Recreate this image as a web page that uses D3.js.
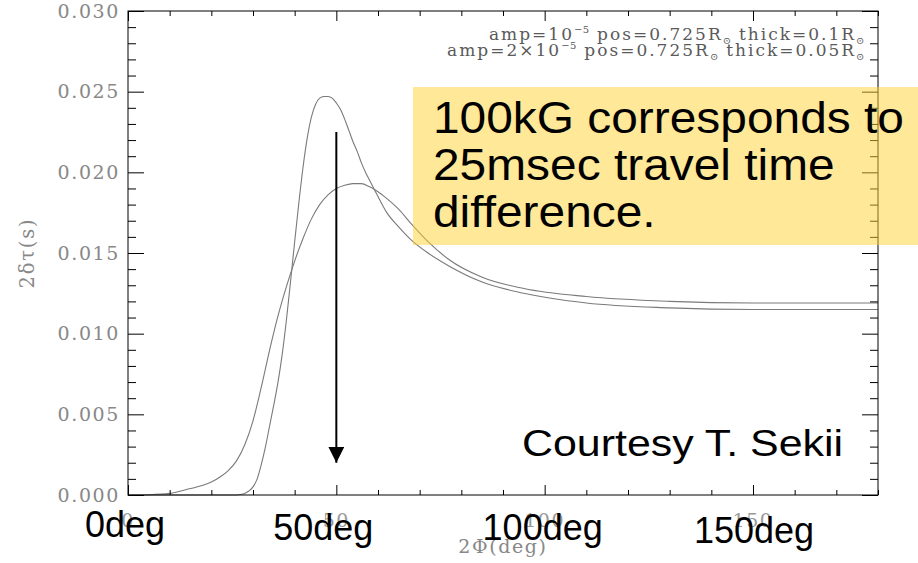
<!DOCTYPE html>
<html>
<head>
<meta charset="utf-8">
<script src="https://cdn.jsdelivr.net/npm/d3@7"></script>
<style>
  body { margin: 0; background: #fff; }
  svg { display: block; }
</style>
</head>
<body>
<div id="chart"></div>
<script>
// x in degrees (2 Phi), y in seconds (2 delta tau)
var degA = [0, 20, 26, 27, 28, 29, 30, 31, 32, 33, 34, 35, 36, 37, 38, 39, 40, 41, 42, 43, 44, 45, 46, 47, 48, 49, 50, 51, 52, 53, 54, 55, 56, 57, 58, 59, 60, 62, 65, 68, 72, 77, 85, 95, 110, 130, 150, 180];
var tauA = [0, 0, 0, 0.00003, 0.0001, 0.00025, 0.0005, 0.0010, 0.0019, 0.0030, 0.0043, 0.0056, 0.0070, 0.0087, 0.0108, 0.0132, 0.0157, 0.0181, 0.0203, 0.0221, 0.0234, 0.0242, 0.0246, 0.0247, 0.0247, 0.0246, 0.0243, 0.0239, 0.0233, 0.0226, 0.0219, 0.0213, 0.0206, 0.0200, 0.0195, 0.0190, 0.0185, 0.01755, 0.0166, 0.0158, 0.0150, 0.0142, 0.0132, 0.0125, 0.0119, 0.0116, 0.0115, 0.0115];

var degB = [0, 5, 10, 15, 18, 20, 22, 24, 26, 28, 30, 32, 34, 36, 38, 40, 42, 44, 46, 48, 50, 52, 54, 56, 58, 60, 62, 65, 68, 72, 77, 85, 95, 110, 130, 150, 180];
var tauB = [0, 0.00002, 0.0001, 0.0004, 0.0006, 0.0008, 0.0011, 0.0015, 0.0021, 0.0031, 0.0046, 0.0067, 0.0090, 0.0111, 0.0129, 0.0145, 0.0159, 0.0171, 0.0180, 0.0186, 0.0190, 0.0192, 0.0193, 0.0193, 0.0191, 0.0188, 0.0184, 0.0177, 0.0168, 0.0157, 0.0146, 0.0135, 0.0128, 0.0123, 0.0120, 0.0119, 0.0119];

var xTicks = [0, 50, 100, 150];
var yTicks = [0.000, 0.005, 0.010, 0.015, 0.020, 0.025, 0.030];
var degLabels = ["0deg", "50deg", "100deg", "150deg"];

// arrow annotation: at 50 deg, from 0.0225 down to 0.002
var arrowDeg = [50, 50];
var arrowTau = [0.0225, 0.002];

var noteLines = ["100kG corresponds to", "25msec travel time", "difference."];
var courtesy = "Courtesy T. Sekii";

var W = 918, H = 563;
var margin = {top: 11, right: 40, bottom: 68, left: 128};
var width = W - margin.left - margin.right,
    height = H - margin.top - margin.bottom;

var svg = d3.select("#chart")
  .append("svg")
    .attr("width", W)
    .attr("height", H)
    .style("background-color", "#fff");

var g = svg.append("g")
  .attr("transform", "translate(" + margin.left + "," + margin.top + ")");

var x = d3.scaleLinear().domain([0, 180]).range([0, width]);
var y = d3.scaleLinear().domain([0, 0.030]).range([height, 0]);

var serif = "'DejaVu Serif', serif";
var sans = "'Liberation Sans', Arial, sans-serif";

// curves
var line = d3.line()
  .x(function(d) { return x(d[0]); })
  .y(function(d) { return y(d[1]); })
  .curve(d3.curveMonotoneX);

[[degA, tauA], [degB, tauB]].forEach(function(s) {
  g.append("path")
    .datum(d3.zip(s[0], s[1]))
    .attr("fill", "none")
    .attr("stroke", "#7a7a7a")
    .attr("stroke-width", 1.1)
    .attr("d", line);
});

// axes: frame plus ticks on all four sides
var xMinor = d3.range(0, 181, 10).filter(function(v) { return xTicks.indexOf(v) < 0; });
var yMinor = d3.range(0, 31, 1).filter(function(v) { return v % 5 !== 0; }).map(function(v) { return v / 1000; });

function drawAxis(axis, transform) {
  var a = g.append("g").attr("transform", transform).call(axis);
  a.select(".domain").remove();
  a.selectAll("line").attr("stroke", "#000").attr("stroke-width", 1);
  return a;
}

// bottom
drawAxis(d3.axisTop(x).tickValues(xTicks).tickSize(10).tickFormat(""), "translate(0," + height + ")");
drawAxis(d3.axisTop(x).tickValues(xMinor).tickSize(5).tickFormat(""), "translate(0," + height + ")");
// top
drawAxis(d3.axisBottom(x).tickValues(xTicks).tickSize(10).tickFormat(""), "translate(0,0)");
drawAxis(d3.axisBottom(x).tickValues(xMinor).tickSize(5).tickFormat(""), "translate(0,0)");
// left
drawAxis(d3.axisRight(y).tickValues(yTicks).tickSize(16).tickFormat(""), "translate(0,0)");
drawAxis(d3.axisRight(y).tickValues(yMinor).tickSize(8).tickFormat(""), "translate(0,0)");
// right
drawAxis(d3.axisLeft(y).tickValues(yTicks).tickSize(16).tickFormat(""), "translate(" + width + ",0)");
drawAxis(d3.axisLeft(y).tickValues(yMinor).tickSize(8).tickFormat(""), "translate(" + width + ",0)");

g.append("rect")
  .attr("width", width)
  .attr("height", height)
  .attr("fill", "none")
  .attr("stroke", "#000")
  .attr("stroke-width", 1);

// y tick labels
g.selectAll(".ylab")
  .data(yTicks)
  .enter()
  .append("text")
    .attr("class", "ylab")
    .attr("x", -8)
    .attr("y", function(d) { return y(d); })
    .attr("dy", "0.35em")
    .attr("text-anchor", "end")
    .attr("font-family", serif)
    .attr("font-size", 19)
    .attr("letter-spacing", 1.6)
    .attr("fill", "#888")
    .text(function(d) { return d3.format(".3f")(d); });

// x tick labels (gray, small)
g.selectAll(".xlab")
  .data(xTicks)
  .enter()
  .append("text")
    .attr("class", "xlab")
    .attr("x", function(d) { return x(d); })
    .attr("y", height + 32)
    .attr("text-anchor", "middle")
    .attr("font-family", serif)
    .attr("font-size", 19)
    .attr("letter-spacing", 1.6)
    .attr("fill", "#999")
    .text(function(d) { return d; });

// axis titles
g.append("text")
  .attr("x", x(90))
  .attr("y", height + 58)
  .attr("text-anchor", "middle")
  .attr("font-family", serif)
  .attr("font-size", 19)
  .attr("letter-spacing", 1.6)
  .attr("fill", "#888")
  .text("2Φ(deg)");

g.append("text")
  .attr("transform", "translate(" + (-94) + "," + y(0.015) + ") rotate(-90)")
  .attr("text-anchor", "middle")
  .attr("font-family", serif)
  .attr("font-size", 19.5)
  .attr("letter-spacing", 1.8)
  .attr("fill", "#888")
  .text("2δτ(s)");

// legend text top right
var legend = [
  [["amp=10", ""], ["−5", "sup"], [" pos=0.725R", ""], ["⊙", "sub"], [" thick=0.1R", ""], ["⊙", "sub"]],
  [["amp=2×10", ""], ["−5", "sup"], [" pos=0.725R", ""], ["⊙", "sub"], [" thick=0.05R", ""], ["⊙", "sub"]]
];
legend.forEach(function(parts, i) {
  var t = g.append("text")
    .attr("x", width - 13)
    .attr("y", 29 + i * 16)
    .attr("text-anchor", "end")
    .attr("font-family", serif)
    .attr("font-size", 17)
    .attr("letter-spacing", 2)
    .attr("fill", "#5a5a5a");
  var prev = "";
  parts.forEach(function(p) {
    var s = t.append("tspan").text(p[0]);
    var back = prev === "sup" ? 7 : prev === "sub" ? -4 : 0;
    var own = p[1] === "sup" ? -7 : p[1] === "sub" ? 4 : 0;
    s.attr("dy", back + own);
    if (p[1] !== "") s.attr("font-size", 10).attr("letter-spacing", 0.5);
    prev = p[1];
  });
});

// arrow
var defs = svg.append("defs");
defs.append("marker")
  .attr("id", "head")
  .attr("viewBox", "0 0 10 10")
  .attr("refX", 10)
  .attr("refY", 5)
  .attr("markerUnits", "userSpaceOnUse")
  .attr("markerWidth", 16)
  .attr("markerHeight", 16)
  .attr("orient", "auto")
  .append("path")
    .attr("d", "M0,0 L10,5 L0,10 Z")
    .attr("fill", "#000");

g.append("line")
  .attr("x1", x(arrowDeg[0]))
  .attr("y1", y(arrowTau[0]))
  .attr("x2", x(arrowDeg[1]))
  .attr("y2", y(arrowTau[1]))
  .attr("stroke", "#000")
  .attr("stroke-width", 2)
  .attr("marker-end", "url(#head)");

// yellow note box
svg.append("rect")
  .attr("x", 413)
  .attr("y", 87)
  .attr("width", W - 413)
  .attr("height", 158)
  .attr("fill", "rgb(255,210,50)")
  .attr("fill-opacity", 0.5);

// the slide text is a little stretched horizontally
svg.selectAll(".note")
  .data(noteLines)
  .enter()
  .append("text")
    .attr("class", "note")
    .attr("transform", function(d, i) { return "translate(433," + (133 + i * 47) + ") scale(1.088,1)"; })
    .attr("font-family", sans)
    .attr("font-size", 44)
    .attr("fill", "#000")
    .text(function(d) { return d; });

svg.append("text")
  .attr("transform", "translate(522,456) scale(1.16,1)")
  .attr("font-family", sans)
  .attr("font-size", 37)
  .attr("fill", "#000")
  .text(courtesy);

// big overlay tick labels
var degDx = [-3, -13, -2, 1], degDy = [537, 540, 540, 543];
svg.selectAll(".deg")
  .data(degLabels)
  .enter()
  .append("text")
    .attr("class", "deg")
    .attr("x", function(d, i) { return margin.left + x(xTicks[i]) + degDx[i]; })
    .attr("y", function(d, i) { return degDy[i]; })
    .attr("text-anchor", "middle")
    .attr("font-family", sans)
    .attr("font-size", 36)
    .attr("fill", "#000")
    .text(function(d) { return d; });
</script>
</body>
</html>
